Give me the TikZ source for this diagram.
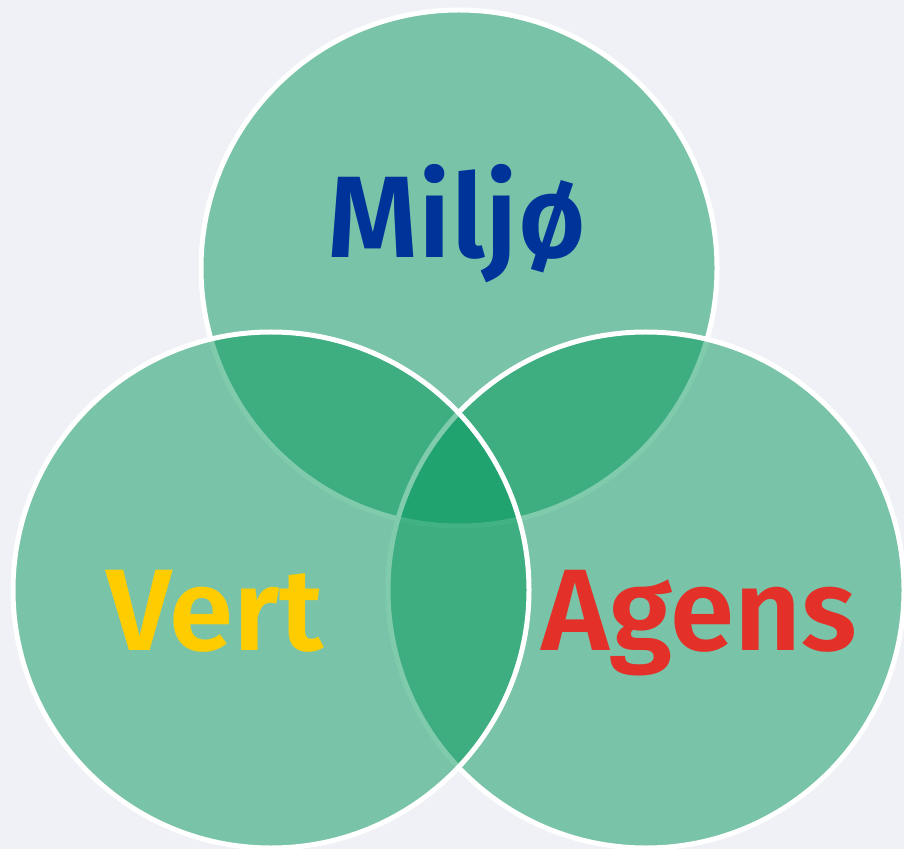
\documentclass[tikz,border=0pt]{standalone}
\usepackage{fontspec}
\setmainfont{Fira Sans}
\newfontfamily\vennfont{Fira Sans SemiBold}
\usetikzlibrary{shapes,positioning}
\definecolor{bggray}{RGB}{240,241,246}
\definecolor{venngreen}{RGB}{4,153,92}
\definecolor{miljoblue}{RGB}{0,51,153}
\definecolor{vertyellow}{RGB}{255,204,0}
\definecolor{agensred}{RGB}{227,49,42}
\tikzset{
  venn/.style={circle,draw=white,line width=2.5pt,fill=venngreen,fill opacity=0.5,
    minimum size=258pt,inner sep=0pt},
  word/.style={anchor=base,inner sep=0pt,font=\fontsize{58}{60}\selectfont\vennfont}
}
\begin{document}
\begin{tikzpicture}[x=0.5pt,y=-0.5pt]
      \useasboundingbox (0,0) rectangle (904,849);
      \fill[bggray] (0,0) rectangle (904,849);
      \node[venn] (miljo) at (459,268) {};
      \node[venn] (agens) at (646,590) {};
      \node[venn] (vert) at (271,590) {};
      \node[word,text=miljoblue] (miljotext) at (457,258) {Miljø};
      \node[word,text=vertyellow] (verttext) at (215,650) {Vert};
      \node[word,text=agensred] (agenstext) at (699,650) {Agens};
    \end{tikzpicture}
\end{document}
